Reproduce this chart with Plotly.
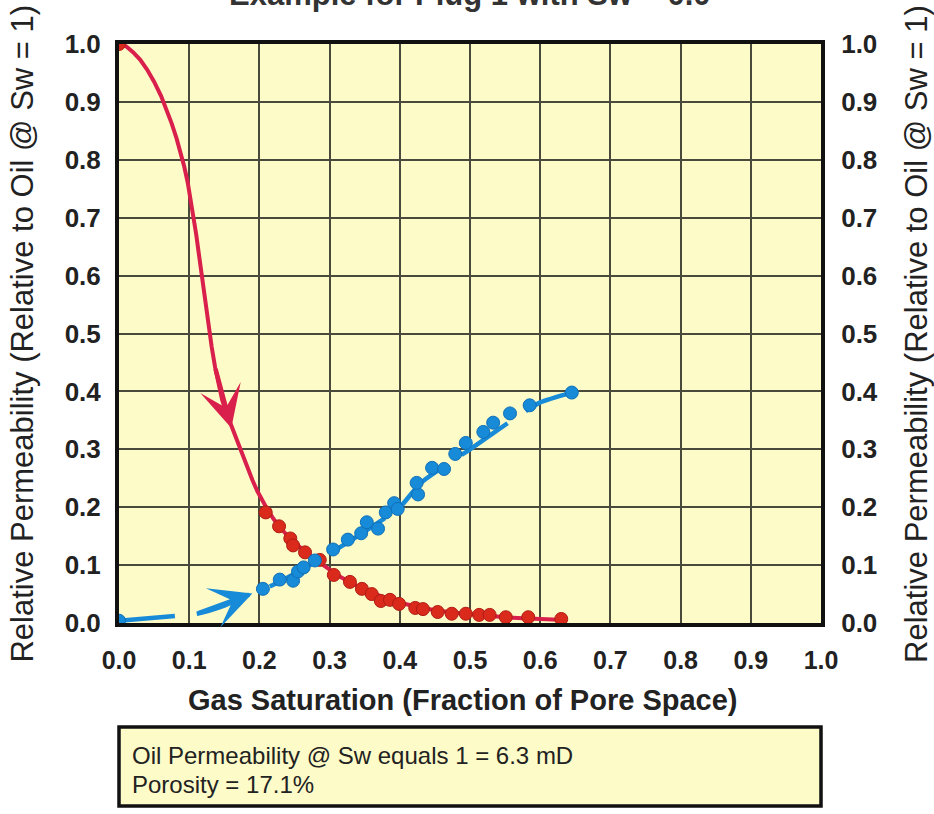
import plotly.graph_objects as go

# ---- data ----
oil_x = [0.0, 0.209, 0.228, 0.244, 0.248, 0.265, 0.286, 0.306, 0.329, 0.346, 0.360, 0.373,
         0.386, 0.399, 0.422, 0.433, 0.454, 0.474, 0.494, 0.513, 0.528, 0.551, 0.583, 0.630]
oil_y = [1.0, 0.191, 0.167, 0.146, 0.134, 0.122, 0.109, 0.083, 0.071, 0.059, 0.050, 0.038,
         0.040, 0.033, 0.026, 0.024, 0.019, 0.016, 0.016, 0.014, 0.014, 0.010, 0.010, 0.007]

oil_fit_x = [0.0, 0.010, 0.020, 0.030, 0.040, 0.050, 0.060, 0.068, 0.075, 0.082, 0.088, 0.093,
             0.098, 0.102, 0.106, 0.110, 0.113, 0.117, 0.120, 0.124, 0.128, 0.132, 0.137,
             0.142, 0.147, 0.152, 0.158, 0.164, 0.170, 0.177, 0.183, 0.190, 0.197, 0.204,
             0.210, 0.220, 0.230, 0.240, 0.250, 0.262, 0.275, 0.287, 0.300, 0.315, 0.330,
             0.345, 0.360, 0.380, 0.400, 0.425, 0.450, 0.475, 0.500, 0.525, 0.550, 0.575,
             0.600, 0.635]
oil_fit_y = [1.0, 0.996, 0.986, 0.973, 0.956, 0.935, 0.910, 0.887, 0.863, 0.837, 0.812, 0.788,
             0.760, 0.733, 0.703, 0.671, 0.644, 0.608, 0.580, 0.544, 0.509, 0.477, 0.441,
             0.411, 0.385, 0.366, 0.347, 0.327, 0.307, 0.285, 0.267, 0.247, 0.228, 0.212,
             0.199, 0.180, 0.164, 0.151, 0.139, 0.126, 0.114, 0.103, 0.092, 0.080, 0.069,
             0.060, 0.052, 0.043, 0.035, 0.028, 0.022, 0.018, 0.015, 0.012, 0.010, 0.008,
             0.007, 0.005]

gas_x = [0.0, 0.205, 0.229, 0.248, 0.255, 0.263, 0.279, 0.305, 0.326, 0.345, 0.353, 0.369,
         0.380, 0.392, 0.397, 0.426, 0.424, 0.446, 0.463, 0.479, 0.494, 0.519, 0.533, 0.557,
         0.585, 0.645]
gas_y = [0.004, 0.059, 0.075, 0.073, 0.089, 0.096, 0.108, 0.127, 0.144, 0.155, 0.174, 0.163,
         0.191, 0.207, 0.197, 0.222, 0.242, 0.268, 0.266, 0.292, 0.311, 0.330, 0.346, 0.362,
         0.376, 0.398]

gas_fit_x = [0.0, 0.08, 0.111, 0.15, 0.187, 0.22, 0.25, 0.30, 0.35, 0.40, 0.43, 0.50, 0.568, 0.60, 0.645]
gas_fit_y = [0.004, 0.012, 0.016, 0.030, 0.050, 0.066, 0.085, 0.120, 0.158, 0.200, 0.242, 0.300, 0.357, 0.381, 0.398]

# arrow positions (tail -> tip) along the fitted curves
oil_arrow = {"tail": (0.137, 0.441), "tip": (0.160, 0.337)}
gas_arrow = {"tail": (0.111, 0.016), "tip": (0.190, 0.051)}

tick_vals = [round(i * 0.1, 1) for i in range(11)]
tick_text = [f"{v:.1f}" for v in tick_vals]

title_text = "Example for Plug 1 with Sw = 0.0"
x_title = "Gas Saturation (Fraction of Pore Space)"
y_title = "Relative Permeability (Relative to Oil @ Sw = 1)"
info_lines = ["Oil Permeability @ Sw equals 1 = 6.3 mD", "Porosity = 17.1%"]

# ---- style ----
BG = "#fdfbc8"
RED_LINE = "#d91f4b"
RED_DOT = "#d92a1c"
BLUE = "#178ad8"
GRID = "#4a4a3c"
TXT = "#222222"
FONT = "Liberation Sans, Arial, sans-serif"

fig = go.Figure()

fig.add_trace(go.Scatter(x=oil_fit_x, y=oil_fit_y, mode="lines",
                         line=dict(color=RED_LINE, width=4),
                         hoverinfo="skip", showlegend=False))
fig.add_trace(go.Scatter(x=gas_fit_x, y=gas_fit_y, mode="lines",
                         line=dict(color=BLUE, width=4.5, shape="spline", smoothing=0.6,
                                   dash="56px,22px"),
                         hoverinfo="skip", showlegend=False))
fig.add_trace(go.Scatter(x=oil_x, y=oil_y, mode="markers",
                         marker=dict(color=RED_DOT, size=13, line=dict(color="#b01c14", width=1)),
                         name="Oil", showlegend=False))
fig.add_trace(go.Scatter(x=gas_x, y=gas_y, mode="markers",
                         marker=dict(color=BLUE, size=13, line=dict(color="#1070b8", width=1)),
                         name="Gas", showlegend=False))
# dummy trace for the right axis
fig.add_trace(go.Scatter(x=[None], y=[None], yaxis="y2", showlegend=False, hoverinfo="skip"))

for arr, col in ((oil_arrow, RED_LINE), (gas_arrow, BLUE)):
    fig.add_annotation(x=arr["tip"][0], y=arr["tip"][1], ax=arr["tail"][0], ay=arr["tail"][1],
                       xref="x", yref="y", axref="x", ayref="y", text="", showarrow=True,
                       arrowhead=3, arrowwidth=4.5, arrowsize=1.55, arrowcolor=col)

axis_common = dict(range=[0, 1], tickvals=tick_vals, ticktext=tick_text,
                   showgrid=True, gridcolor=GRID, gridwidth=1.5, zeroline=False,
                   showline=True, linecolor="#111111", linewidth=4, ticks="")
yfont = dict(family=FONT, size=26, color=TXT, weight="bold")
xfont = dict(family=FONT, size=25, color=TXT, weight="bold")

fig.update_layout(
    width=934, height=814,
    margin=dict(l=119, r=113, t=44, b=191),
    paper_bgcolor="white", plot_bgcolor=BG,
    font=dict(family=FONT, color=TXT),
    xaxis=dict(**axis_common, tickfont=xfont, mirror=True, ticklabelstandoff=12),
    yaxis=dict(**axis_common, tickfont=yfont, mirror=True, ticklabelstandoff=9),
    yaxis2=dict(**{k: v for k, v in axis_common.items() if k != "showgrid"}, showgrid=False,
                tickfont=yfont, overlaying="y", side="right", ticklabelstandoff=11),
)

# titles
fig.add_annotation(text=f"<b>{title_text}</b>", xref="paper", yref="paper", x=0.5, y=1.052,
                   xanchor="center", yanchor="bottom", showarrow=False,
                   font=dict(family=FONT, size=31, color="#333333"))
fig.add_annotation(text=f"<b>{x_title}</b>", xref="paper", yref="paper", x=0.49, y=-0.133,
                   xanchor="center", yanchor="middle", showarrow=False,
                   font=dict(family=FONT, size=29, color=TXT))
fig.add_annotation(text=y_title, xref="paper", yref="paper", x=-0.138, y=0.500,
                   xanchor="center", yanchor="middle", textangle=-90, showarrow=False,
                   font=dict(family=FONT, size=31, color=TXT))
fig.add_annotation(text=y_title, xref="paper", yref="paper", x=1.136, y=0.500,
                   xanchor="center", yanchor="middle", textangle=-90, showarrow=False,
                   font=dict(family=FONT, size=31, color=TXT))

# info box
fig.add_shape(type="rect", xref="paper", yref="paper", x0=0.0, x1=1.0, y0=-0.316, y1=-0.1796,
              fillcolor=BG, line=dict(color="#111111", width=3.5), layer="above")
for line_text, ypos in zip(info_lines, (-0.2280, -0.2790)):
    fig.add_annotation(text=line_text, xref="paper", yref="paper", x=0.0157, y=ypos,
                       xanchor="left", yanchor="middle", align="left", showarrow=False,
                       font=dict(family=FONT, size=24, color=TXT))

fig.write_html("out.html")
